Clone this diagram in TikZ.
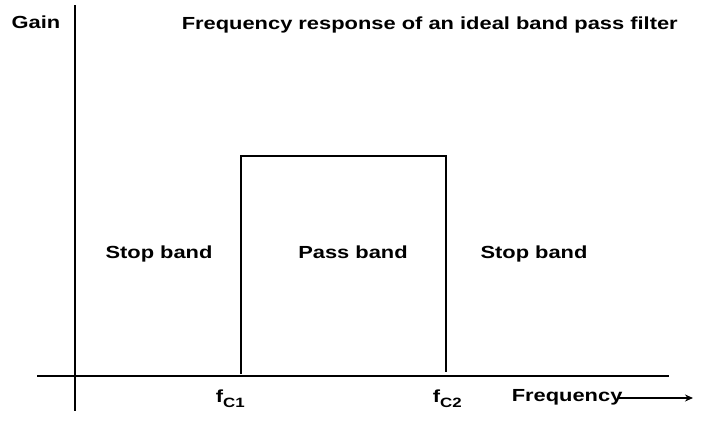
\documentclass[tikz,border=0pt]{standalone}
\usepackage{fontspec}
\setmainfont{Liberation Sans}[FakeStretch=1.25]
\usepackage{tikz}
\usetikzlibrary{arrows.meta}

\newcommand{\cutoff}[1]{f\raisebox{-5pt}{\fontsize{13.5}{14}\selectfont C#1}}

\begin{document}
\begin{tikzpicture}[x=1pt, y=-1pt, line width=1.6pt,
        lbl/.style={font=\fontsize{17.5}{20}\selectfont\bfseries, inner sep=0pt, anchor=base}]
        \useasboundingbox (0, 0) rectangle (710, 421);

        % axes
        \draw (75, 5) -- (75, 411);
        \draw (37, 376) -- (669, 376);

        % ideal pass band
        \draw (241, 374) -- (241, 156) -- (446, 156) -- (446, 372);

        \node[lbl] (gain) at (36, 28) {Gain};
        \node[lbl, anchor=base west] (title) at (181, 29) {Frequency response of an ideal band pass filter};

        \node[lbl] (stopL) at (159, 258) {Stop band};
        \node[lbl] (pass) at (353, 258) {Pass band};
        \node[lbl] (stopR) at (534, 258) {Stop band};

        \node[lbl, anchor=base west] (fc1) at (215, 402.5) {\cutoff{1}};
        \node[lbl, anchor=base west] (fc2) at (432, 402.5) {\cutoff{2}};
        \node[lbl, anchor=base west] (freq) at (511, 401) {Frequency};
        \coordinate (tip) at (693, 398);
        \draw[line width=1.2pt, -{Stealth[length=8pt, width=7pt]}] (freq.east |- tip) ++(-4, 0) -- (tip);
    \end{tikzpicture}
\end{document}
